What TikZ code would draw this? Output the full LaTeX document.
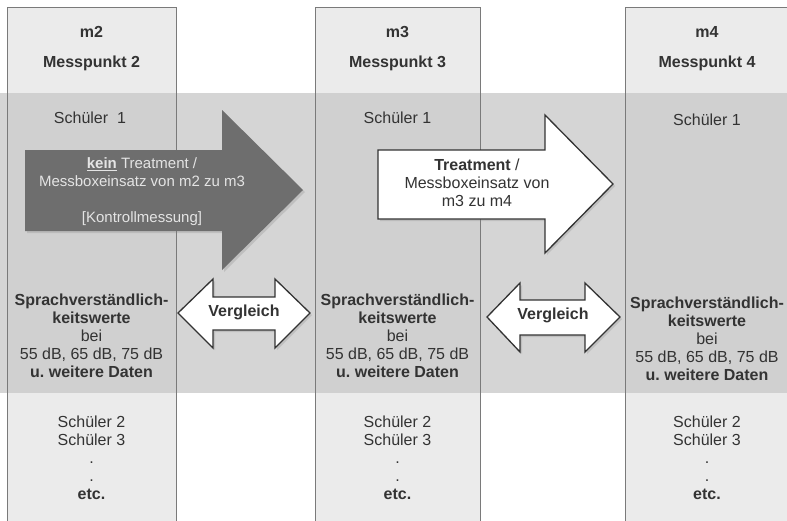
\documentclass[tikz,border=0pt]{standalone}
\usepackage{fontspec}
\setmainfont{Liberation Sans}
\usetikzlibrary{shadows}
\frenchspacing
\definecolor{bandgray}{HTML}{D5D5D5}
\definecolor{bandcol}{HTML}{D0D0D0}
\definecolor{colfill}{HTML}{EBEBEB}
\definecolor{edgegray}{HTML}{7A7A7A}
\definecolor{txt}{HTML}{333333}
\definecolor{darkarrow}{HTML}{6E6E6E}
\definecolor{lighttxt}{HTML}{E4E4E4}
\begin{document}
\begin{tikzpicture}[x=1pt,y=-1pt,
  lbl/.style={text=txt,font=\fontsize{16}{18}\selectfont,align=center,inner sep=0pt},
  hdr/.style={lbl,font=\fontsize{16}{18}\selectfont\bfseries},
  arrowshape/.style={drop shadow={shadow xshift=2pt,shadow yshift=-2pt,opacity=0.25}},
  colline/.style={draw=edgegray,line width=0.8pt}]
\useasboundingbox (0,0) rectangle (787,520);
\fill[white] (0,0) rectangle (787,520);
\fill[bandgray] (0,93) rectangle (787,393);
% columns
\foreach \xa/\xb in {7/176,315/480,625/789}{
  \fill[colfill] (\xa,7) rectangle (\xb,93);
  \fill[bandcol] (\xa,93) rectangle (\xb,393);
  \fill[colfill] (\xa,393) rectangle (\xb,525);
  \draw[colline] (\xa,525) -- (\xa,7) -- (\xb,7) -- (\xb,525);
}
% headers
\node[hdr] (m2) at (91.5,32) {m2};
\node[hdr] (mp2) at (91.5,63) {Messpunkt 2};
\node[hdr] (m3) at (397.5,32) {m3};
\node[hdr] (mp3) at (397.5,63) {Messpunkt 3};
\node[hdr] (m4) at (707,32) {m4};
\node[hdr] (mp4) at (707,63) {Messpunkt 4};
% Schueler 1
\node[lbl] (s1a) at (90,118) {Schüler\ \ 1};
\node[lbl] (s1b) at (397.5,118) {Schüler 1};
\node[lbl] (s1c) at (707,120) {Schüler 1};
% data blocks
\node[lbl] (d2) at (91.5,336) {\textbf{Sprachverständlich-}\\\textbf{keitswerte}\\bei\\55 dB, 65 dB, 75 dB\\\textbf{u. weitere Daten}};
\node[lbl] (d3) at (397.5,336) {\textbf{Sprachverständlich-}\\\textbf{keitswerte}\\bei\\55 dB, 65 dB, 75 dB\\\textbf{u. weitere Daten}};
\node[lbl] (d4) at (707,339) {\textbf{Sprachverständlich-}\\\textbf{keitswerte}\\bei\\55 dB, 65 dB, 75 dB\\\textbf{u. weitere Daten}};
% bottom lists
\node[lbl] (b2) at (91.5,458) {Schüler 2\\Schüler 3\\.\\.\\\textbf{etc.}};
\node[lbl] (b3) at (397.5,458) {Schüler 2\\Schüler 3\\.\\.\\\textbf{etc.}};
\node[lbl] (b4) at (707,458) {Schüler 2\\Schüler 3\\.\\.\\\textbf{etc.}};
% dark arrow
\fill[darkarrow,arrowshape] (25,150) -- (222,150) -- (222,110) -- (303,190) -- (222,270) -- (222,231) -- (25,231) -- cycle;
\node[lbl,text=lighttxt,font=\fontsize{15}{18}\selectfont] (ctl) at (142,192)
  {\underline{\textbf{kein}} Treatment /\\Messboxeinsatz von m2 zu m3\\[18pt][Kontrollmessung]};
% white arrow
\filldraw[fill=white,draw=txt,line width=1.3pt,line join=miter,arrowshape] (378,150) -- (545,150) -- (545,115) -- (613,184) -- (545,253) -- (545,219) -- (378,219) -- cycle;
\node[lbl] (trt) at (477,183) {\textbf{Treatment} /\\Messboxeinsatz von\\m3 zu m4};
% Vergleich arrows
\filldraw[fill=white,draw=txt,line width=1.3pt,arrowshape] (178,313) -- (213,279) -- (213,297) -- (275,297) -- (275,279) -- (310,313) -- (275,348) -- (275,330) -- (213,330) -- (213,348) -- cycle;
\node[hdr] (v1) at (244,312) {Vergleich};
\filldraw[fill=white,draw=txt,line width=1.3pt,arrowshape] (487,317) -- (520,283) -- (520,300) -- (585,300) -- (585,283) -- (620,317) -- (585,352) -- (585,335) -- (520,335) -- (520,352) -- cycle;
\node[hdr] (v2) at (553,315) {Vergleich};
\end{tikzpicture}
\end{document}
